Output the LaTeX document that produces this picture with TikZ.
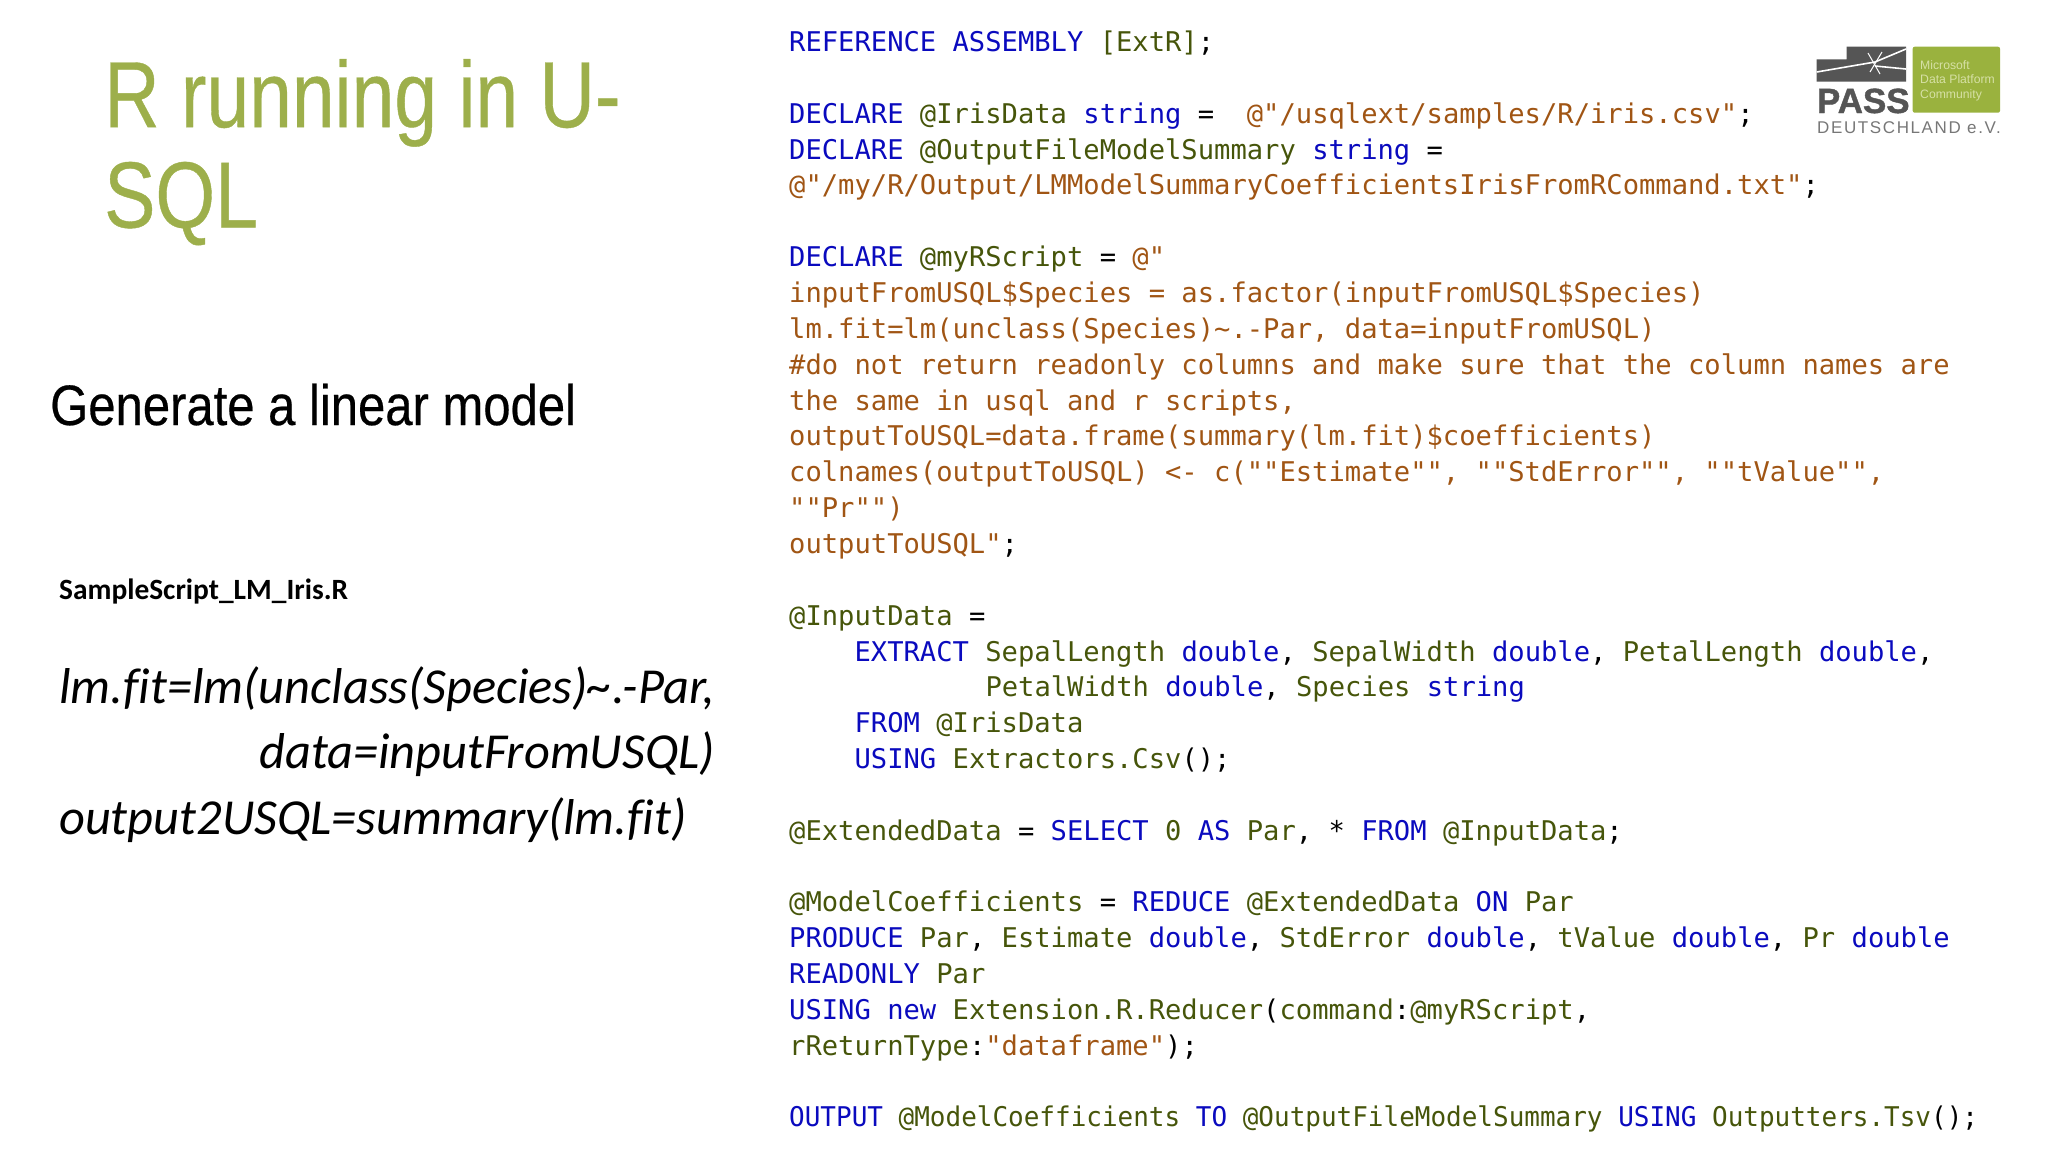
\documentclass[tikz,border=0pt]{standalone}
\usepackage{fontspec}
\setmainfont{Liberation Sans}
\newfontfamily\titlefont[FakeStretch=0.817,FakeBold=0.4]{Liberation Sans}
\newfontfamily\subfont[FakeStretch=0.86,FakeBold=0.4]{Liberation Sans}
\newfontfamily\carlitofont[Ligatures=NoCommon]{Carlito}
\newfontfamily\codefont{DejaVu Sans Mono}
\newfontfamily\codetightfont[FakeStretch=0.957]{DejaVu Sans Mono}
\newfontfamily\passfont[BoldFeatures={FakeBold=1.2}]{Liberation Sans}
\newfontfamily\deutschfont[LetterSpace=9.5]{Liberation Sans}
\definecolor{slidegreen}{RGB}{157,175,75}
\definecolor{kwblue}{RGB}{10,10,190}
\definecolor{idolive}{RGB}{70,85,10}
\definecolor{strbrown}{RGB}{160,85,20}
\definecolor{logogrey}{RGB}{85,85,85}
\definecolor{logogreen}{RGB}{154,178,62}
\definecolor{logotext}{RGB}{214,224,165}
\newcommand{\kwd}[1]{\textcolor{kwblue}{#1}}
\newcommand{\idn}[1]{\textcolor{idolive}{#1}}
\newcommand{\strg}[1]{\textcolor{strbrown}{#1}}
\tikzset{
  codeline/.style={anchor=base west, inner sep=0pt, font=\codefont\fontsize{27.15pt}{30pt}\selectfont},
  slidetext/.style={anchor=base west, inner sep=0pt},
  fitline/.style={anchor=base west, inner sep=0pt, font=\carlitofont\itshape\fontsize{50.4pt}{54pt}\selectfont},
  logoline/.style={anchor=base west, inner sep=0pt, text=logotext, font=\fontsize{12.2pt}{14pt}\selectfont}
}
\begin{document}
\begin{tikzpicture}[x=1pt,y=-1pt]
\useasboundingbox (0,0) rectangle (2048,1152);
% left column
\node[slidetext, text=slidegreen, font=\titlefont\fontsize{94pt}{100pt}\selectfont] (title1) at (104,127.2) {R running in U-};
\node[slidetext, text=slidegreen, font=\titlefont\fontsize{94pt}{100pt}\selectfont] (title2) at (104,227.5) {SQL};
\node[slidetext, font=\subfont\fontsize{57pt}{60pt}\selectfont] (subtitle) at (50,425) {Generate a linear model};
\node[slidetext, font=\carlitofont\bfseries\fontsize{29.4pt}{32pt}\selectfont] (scriptname) at (59,599) {SampleScript\_LM\_Iris.R};
\node[fitline] (fit1) at (59,703) {lm.fit=lm(unclass(Species)\textasciitilde.-Par,};
\node[fitline] (fit2) at (259,768) {data=inputFromUSQL)};
\node[fitline] (fit3) at (59,834) {output2USQL=summary(lm.fit)};
% code column
\node[codeline] (line0) at (789,51.5) {\kwd{REFERENCE ASSEMBLY} \idn{[ExtR]};};
\node[codeline] (line2) at (789,123.2) {\kwd{DECLARE} \idn{@IrisData} \kwd{string} =\ \ \strg{@"/usqlext/samples/R/iris.csv"};};
\node[codeline] (line3) at (789,159.05) {\kwd{DECLARE} \idn{@OutputFileModelSummary} \kwd{string} =};
\node[codeline] (line4) at (789,194.9) {\strg{@"/my/R/Output/LMModelSummaryCoefficientsIrisFromRCommand.txt"};};
\node[codeline] (line6) at (789,266.6) {\kwd{DECLARE} \idn{@myRScript} = \strg{@"}};
\node[codeline, text=strbrown] (line7) at (789,302.45) {inputFromUSQL\$Species = as.factor(inputFromUSQL\$Species)};
\node[codeline, text=strbrown] (line8) at (789,338.3) {lm.fit=lm(unclass(Species)\textasciitilde.-Par, data=inputFromUSQL)};
\node[codeline, text=strbrown] (line9) at (789,374.15) {\#do not return readonly columns and make sure that the column names are};
\node[codeline, text=strbrown] (line10) at (789,410) {the same in usql and r scripts,};
\node[codeline, text=strbrown] (line11) at (789,445.85) {outputToUSQL=data.frame(summary(lm.fit)\$coefficients)};
\node[codeline, text=strbrown] (line12) at (789,481.7) {colnames(outputToUSQL) <- c(""Estimate"", ""StdError"", ""tValue"",};
\node[codeline, text=strbrown] (line13) at (789,517.55) {""Pr"")};
\node[codeline] (line14) at (789,553.4) {\strg{outputToUSQL"};};
\node[codeline] (line16) at (789,625.1) {\idn{@InputData} =};
\node[codeline] (line17) at (854.4,661.3) {\kwd{EXTRACT} \idn{SepalLength} \kwd{double}, \idn{SepalWidth} \kwd{double}, \idn{PetalLength} \kwd{double},};
\node[codeline] (line18) at (985.3,696.8) {\idn{PetalWidth} \kwd{double}, \idn{Species} \kwd{string}};
\node[codeline] (line19) at (854.4,732.65) {\kwd{FROM} \idn{@IrisData}};
\node[codeline] (line20) at (854.4,768.5) {\kwd{USING} \idn{Extractors.Csv}();};
\node[codeline] (line22) at (789,840.2) {\idn{@ExtendedData} = \kwd{SELECT} \idn{0} \kwd{AS} \idn{Par}, * \kwd{FROM} \idn{@InputData};};
\node[codeline] (line24) at (789,911.9) {\idn{@ModelCoefficients} = \kwd{REDUCE} \idn{@ExtendedData} \kwd{ON} \idn{Par}};
\node[codeline] (line25) at (789,947.75) {\kwd{PRODUCE} \idn{Par}, \idn{Estimate} \kwd{double}, \idn{StdError} \kwd{double}, \idn{tValue} \kwd{double}, \idn{Pr} \kwd{double}};
\node[codeline] (line26) at (789,983.6) {\kwd{READONLY} \idn{Par}};
\node[codeline] (line27) at (789,1019.45) {\kwd{USING new} \idn{Extension.R.Reducer}(\idn{command}:\idn{@myRScript},};
\node[codeline] (line28) at (789,1055.3) {\idn{rReturnType}:\strg{"dataframe"});};
\node[codeline, font=\codetightfont\fontsize{27.15pt}{30pt}\selectfont] (line30) at (789,1126.2) {\kwd{OUTPUT} \idn{@ModelCoefficients} \kwd{TO} \idn{@OutputFileModelSummary} \kwd{USING} \idn{Outputters.Tsv}();};
% logo
\fill[logogrey] (1846.7,46.7) -- (1906,46.7) -- (1906,81.7) -- (1816.7,81.7) -- (1816.7,59.3) -- (1846.7,59.3) -- cycle;
\draw[white, line width=1.6pt] (1816.7,72) -- (1875,62) -- (1906,49);
\draw[white, line width=1.6pt] (1875,66) -- (1906,69);
\draw[white, line width=1pt] (1868,53) -- (1880,74);
\draw[white, line width=1pt] (1882,52) -- (1870,72);
\fill[logogreen, rounded corners=2pt] (1912.7,46.7) rectangle (2000,112.7);
\node[slidetext, text=logogrey, font=\passfont\bfseries\fontsize{35pt}{36pt}\selectfont] (logopass) at (1816.7,113) {PASS};
\node[slidetext, text=logogrey!80, font=\deutschfont\fontsize{17pt}{18pt}\selectfont] (logoname) at (1817,133) {DEUTSCHLAND e.V.};
\node[logoline] (logoms1) at (1920,69) {Microsoft};
\node[logoline] (logoms2) at (1920,83) {Data Platform};
\node[logoline] (logoms3) at (1920,98) {Community};
\end{tikzpicture}
\end{document}
